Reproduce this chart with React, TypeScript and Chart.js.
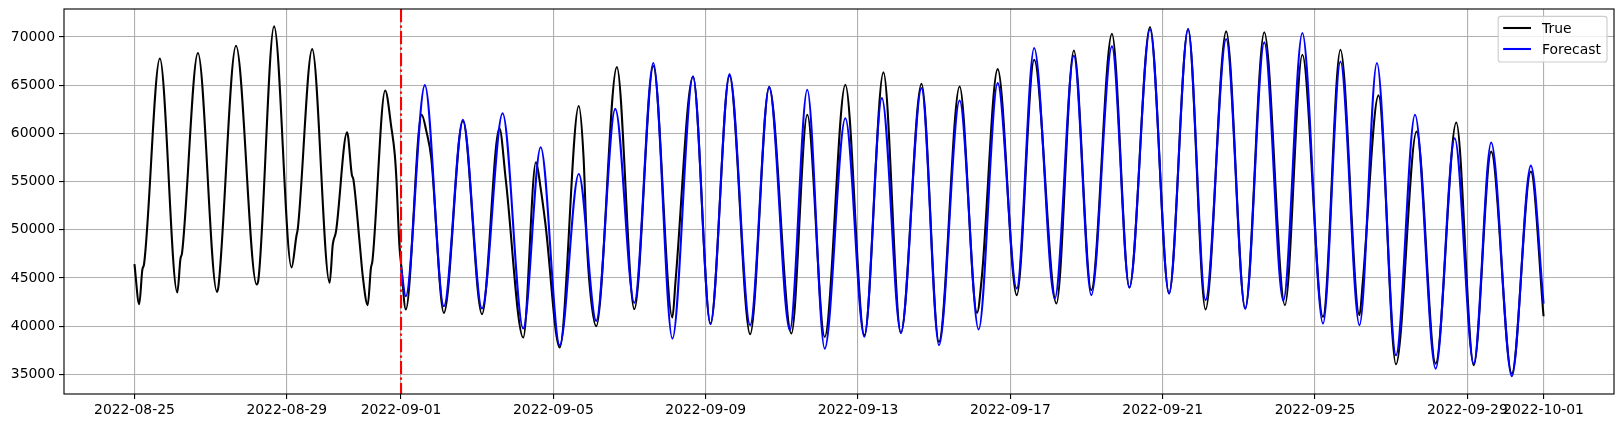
import React, { useEffect, useRef } from "react";
import { Chart, registerables } from "chart.js";

Chart.register(...registerables);

// x positions are hours since 2022-08-25 00:00
const xTickHours = [0, 96, 168, 264, 360, 456, 552, 648, 744, 840, 888];
const xTickLabels = [
  "2022-08-25", "2022-08-29", "2022-09-01", "2022-09-05", "2022-09-09", "2022-09-13",
  "2022-09-17", "2022-09-21", "2022-09-25", "2022-09-29", "2022-10-01",
];
const yTickValues = [35000, 40000, 45000, 50000, 55000, 60000, 65000, 70000];
const splitHour = 168; // 2022-09-01

const trueHours = [
  0, 3, 5, 6, 16, 27, 29, 30, 40, 52, 53, 64, 77, 78, 88, 99, 102, 103, 112, 123, 125, 127,
  134, 137, 138, 142, 144, 147, 149, 150, 158, 162, 164, 165, 167, 168, 171, 181, 184, 187,
  195, 207, 219, 230, 234, 245, 253, 256, 259, 268, 280, 283, 285, 287, 291, 304, 315, 327,
  339, 341, 352, 363, 375, 388, 400, 414, 424, 435, 448, 460, 472, 483, 496, 507, 520, 531,
  534, 544, 556, 567, 581, 592, 603, 616, 627, 640, 652, 664, 675, 688, 700, 712, 725, 736,
  749, 760, 772, 774, 784, 795, 808, 820, 833, 844, 855, 868, 880, 888,
];
const trueValues = [
  46440, 42280, 45900, 46400, 67780, 43490, 47000, 47600, 68340, 43560, 44200, 69100, 44330,
  44700, 71110, 46090, 49280, 50200, 68750, 44500, 48500, 49800, 60120, 55700, 55200, 48500,
  45000, 42180, 46000, 46800, 64460, 60500, 57900, 55500, 48300, 46500, 41730, 61930, 60200,
  57500, 41380, 61300, 41240, 60540, 55200, 38820, 57000, 54300, 50600, 37780, 62840, 57600,
  49000, 44000, 39990, 66880, 41760, 67000, 40900, 44700, 65900, 40270, 66000, 39160, 64800,
  39230, 61930, 38880, 65050, 39060, 66330, 39300, 65150, 38370, 64870, 41380, 45100, 66670,
  43220, 67640, 42350, 68610, 43740, 70350, 44010, 71040, 43390, 70830, 41730, 70590, 41830,
  70490, 42180, 68160, 40960, 68680, 41140, 44400, 63950, 36040, 60190, 36110, 61130, 35940,
  58110, 35070, 56040, 41030,
];

const forecastHours = [
  168, 171, 183, 195, 207, 219, 232, 245, 256, 268, 280, 291, 303, 315, 327, 339, 352, 363,
  375, 388, 400, 413, 424, 435, 448, 460, 471, 483, 496, 507, 520, 532, 544, 556, 567, 580,
  592, 603, 616, 627, 640, 652, 664, 675, 688, 700, 712, 724, 736, 749, 760, 772, 783, 795,
  807, 820, 832, 844, 855, 868, 880, 888,
];
const forecastValues = [
  46160, 43110, 65010, 42070, 61410, 41830, 62100, 39750, 58570, 38020, 55790, 40550, 62550,
  42420, 67300, 38710, 65910, 40200, 66150, 40100, 64800, 39580, 64530, 37670, 61580, 38900,
  63660, 39300, 64700, 38020, 63420, 39650, 65220, 43910, 68860, 42870, 68060, 43220, 69030,
  44010, 70800, 43390, 70830, 42700, 69790, 41800, 69450, 42630, 70420, 40270, 67470, 40100,
  67300, 36980, 61930, 35590, 59500, 36100, 59050, 34800, 56660, 42350,
];

const FONT = "DejaVu Sans";
const FS = 13.9;

export default function App() {
  const ref = useRef<HTMLCanvasElement>(null);

  useEffect(() => {
    const canvas = ref.current!;
    const toPts = (hs: number[], vs: number[]) => hs.map((h, i) => ({ x: h, y: vs[i] }));

    const overlay = {
      id: "overlay",
      beforeDraw(chart: any) {
        const c = chart.ctx;
        c.save();
        c.fillStyle = "#ffffff";
        c.fillRect(0, 0, chart.width, chart.height);
        c.restore();
      },
      afterDatasetsDraw(chart: any) {
        const c = chart.ctx;
        const a = chart.chartArea;
        const x = chart.scales.x.getPixelForValue(splitHour);
        c.save();
        c.strokeStyle = "#ff0000";
        c.lineWidth = 2.08;
        c.setLineDash([13.3, 3.3, 2.1, 3.3]);
        c.beginPath();
        c.moveTo(x, a.top);
        c.lineTo(x, a.bottom);
        c.stroke();
        c.restore();
      },
      afterDraw(chart: any) {
        const c = chart.ctx;
        const a = chart.chartArea;
        c.save();
        // frame
        c.strokeStyle = "#000000";
        c.lineWidth = 1.11;
        c.strokeRect(a.left, a.top, a.right - a.left, a.bottom - a.top);
        // legend
        c.font = `${FS}px "${FONT}"`;
        const ds = chart.data.datasets;
        const maxW = Math.max(...ds.map((d: any) => c.measureText(d.label).width));
        const boxW = 0.4 * FS * 2 + 2 * FS + 0.8 * FS + maxW;
        const boxH = 45.6;
        const bx = a.right - 7 - boxW;
        const by = a.top + 7.4;
        const r = 2.8;
        c.beginPath();
        c.moveTo(bx + r, by);
        c.lineTo(bx + boxW - r, by);
        c.quadraticCurveTo(bx + boxW, by, bx + boxW, by + r);
        c.lineTo(bx + boxW, by + boxH - r);
        c.quadraticCurveTo(bx + boxW, by + boxH, bx + boxW - r, by + boxH);
        c.lineTo(bx + r, by + boxH);
        c.quadraticCurveTo(bx, by + boxH, bx, by + boxH - r);
        c.lineTo(bx, by + r);
        c.quadraticCurveTo(bx, by, bx + r, by);
        c.closePath();
        c.fillStyle = "rgba(255,255,255,0.8)";
        c.fill();
        c.strokeStyle = "#cccccc";
        c.lineWidth = 1.11;
        c.stroke();
        ds.forEach((d: any, i: number) => {
          const y = by + 11.6 + i * 21;
          const hx = bx + 5;
          c.strokeStyle = d.borderColor;
          c.lineWidth = 2.08;
          c.beginPath();
          c.moveTo(hx, y);
          c.lineTo(hx + 2 * FS, y);
          c.stroke();
          c.fillStyle = "#000000";
          c.textBaseline = "middle";
          c.textAlign = "left";
          c.fillText(d.label, hx + 2 * FS + 0.8 * FS, y + 1);
        });
        c.restore();
      },
    };

    const chart = new Chart(canvas, {
      type: "line",
      data: {
        datasets: [
          {
            label: "True",
            data: toPts(trueHours, trueValues),
            borderColor: "#000000",
            backgroundColor: "#000000",
            borderWidth: 2.08,
            pointRadius: 0,
            cubicInterpolationMode: "monotone",
            fill: false,
            order: 2,
          },
          {
            label: "Forecast",
            data: toPts(forecastHours, forecastValues),
            borderColor: "#0000ff",
            backgroundColor: "#0000ff",
            borderWidth: 2.08,
            pointRadius: 0,
            cubicInterpolationMode: "monotone",
            fill: false,
            order: 1,
          },
        ],
      },
      options: {
        animation: false,
        responsive: false,
        devicePixelRatio: 1,
        layout: { padding: { left: 0, right: 10, top: 9, bottom: 0 } },
        plugins: { legend: { display: false }, tooltip: { enabled: false } },
        scales: {
          x: {
            type: "linear",
            min: -44.4,
            max: 932.4,
            afterBuildTicks: (s: any) => {
              s.ticks = xTickHours.map((v) => ({ value: v }));
            },
            afterFit: (s: any) => {
              s.height = 34;
              s.paddingLeft = 0;
              s.paddingRight = 0;
            },
            ticks: {
              autoSkip: false,
              maxRotation: 0,
              minRotation: 0,
              color: "#000000",
              padding: 3,
              font: { family: FONT, size: FS },
              callback: (v: any) => {
                const i = xTickHours.indexOf(Number(v));
                return i >= 0 ? xTickLabels[i] : "";
              },
            },
            grid: {
              color: "#b0b0b0",
              lineWidth: 1.11,
              tickLength: 5,
              tickColor: "#000000",
              tickWidth: 1.11,
            },
            border: { display: false },
          },
          y: {
            type: "linear",
            min: 32960,
            max: 72910,
            afterBuildTicks: (s: any) => {
              s.ticks = yTickValues.map((v) => ({ value: v }));
            },
            afterFit: (s: any) => {
              s.width = 64;
              s.paddingTop = 0;
              s.paddingBottom = 0;
            },
            ticks: {
              color: "#000000",
              padding: 4,
              font: { family: FONT, size: FS },
              callback: (v: any) => String(v),
            },
            grid: {
              color: "#b0b0b0",
              lineWidth: 1.11,
              tickLength: 5,
              tickColor: "#000000",
              tickWidth: 1.11,
            },
            border: { display: false },
          },
        },
      },
      plugins: [overlay],
    } as any);

    return () => chart.destroy();
  }, []);

  return (
    <div style={{ position: "fixed", left: 0, top: 0, width: 1624, height: 428, background: "#ffffff" }}>
      <canvas ref={ref} width={1624} height={428} style={{ display: "block", width: 1624, height: 428 }} />
    </div>
  );
}
